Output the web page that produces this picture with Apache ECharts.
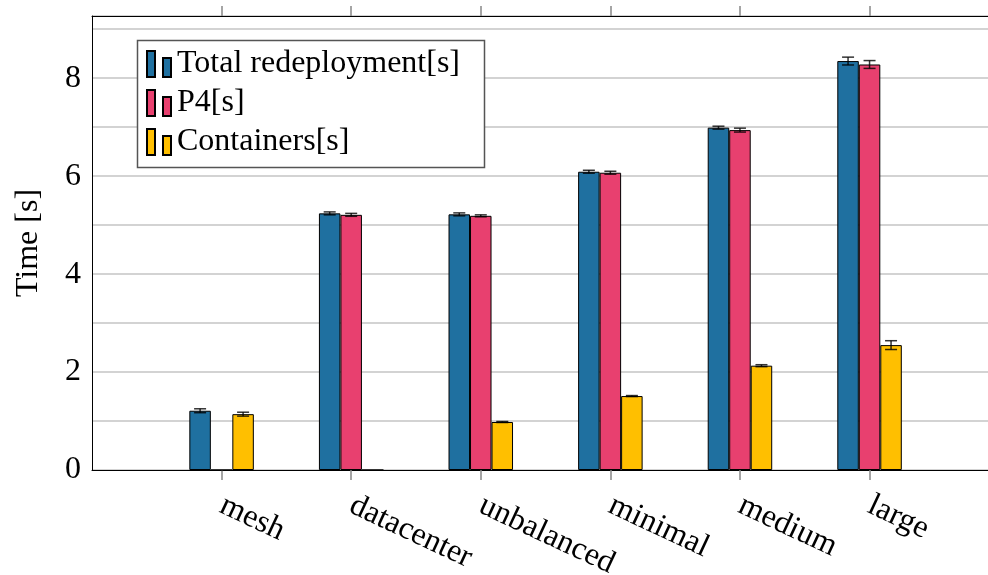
<!DOCTYPE html>
<html>
<head>
<meta charset="utf-8">
<script src="https://cdn.jsdelivr.net/npm/echarts@6/dist/echarts.min.js"></script>
<style>
  html, body { margin: 0; padding: 0; background: #fff; }
  #chart { width: 988px; height: 575px; }
</style>
</head>
<body>
<div id="chart"></div>
<script>
// Redeployment times per topology, with standard deviations
const categories = ['mesh', 'datacenter', 'unbalanced', 'minimal', 'medium', 'large'];
const seriesNames = ['Total redeployment[s]', 'P4[s]', 'Containers[s]'];
const totalValues = [1.21, 5.24, 5.22, 6.09, 6.99, 8.35];
const p4Values = [0, 5.21, 5.19, 6.07, 6.94, 8.28];
const containerValues = [1.14, 0, 0.98, 1.51, 2.13, 2.55];
const totalErr = [0.04, 0.03, 0.03, 0.03, 0.03, 0.08];
const p4Err = [0, 0.03, 0.02, 0.03, 0.04, 0.08];
const containerErr = [0.04, 0, 0.01, 0.01, 0.02, 0.09];
const colors = ['#1f70a0', '#e8406f', '#ffbf00'];

const FONT = 'Liberation Serif';
const FS = 32;
const BAR_W = 21.5;

// categories sit at integer positions; the frame leaves one empty slot on the left
const catPos = categories.map((_, i) => i);
const X_MIN = -1;
const X_MAX = 5.914;

const values = [totalValues, p4Values, containerValues];
const errs = [totalErr, p4Err, containerErr];

const barSeries = values.map((vals, i) => ({
  name: seriesNames[i],
  type: 'bar',
  data: vals.map((v, c) => [catPos[c], v]),
  barWidth: BAR_W,
  barGap: '0%',
  itemStyle: { color: colors[i], borderColor: '#000', borderWidth: 1 },
  emphasis: { disabled: true },
  z: 2
}));

// error bars: [position, seriesIndex, value, err]
const errData = [];
values.forEach((vals, s) => {
  vals.forEach((v, c) => {
    if (errs[s][c] > 0) errData.push([catPos[c], s, v, errs[s][c]]);
  });
});

const errSeries = {
  type: 'custom',
  name: 'err',
  data: errData,
  encode: { x: 0, y: 2 },
  z: 5,
  silent: true,
  renderItem: function (params, api) {
    const c = api.value(0), s = api.value(1), v = api.value(2), e = api.value(3);
    const hi = api.coord([c, v + e]);
    const lo = api.coord([c, v - e]);
    const x = hi[0] + (s - 1) * BAR_W;
    const cap = 6;
    const style = { stroke: 'rgba(0,0,0,0.8)', lineWidth: 1.5 };
    return {
      type: 'group',
      children: [
        { type: 'line', shape: { x1: x, y1: hi[1], x2: x, y2: lo[1] }, style: style },
        { type: 'line', shape: { x1: x - cap, y1: hi[1], x2: x + cap, y2: hi[1] }, style: style },
        { type: 'line', shape: { x1: x - cap, y1: lo[1], x2: x + cap, y2: lo[1] }, style: style }
      ]
    };
  }
};

const tickStyle = { color: '#888', width: 1.5 };

const option = {
  animation: false,
  backgroundColor: '#fff',
  textStyle: { fontFamily: FONT },
  grid: { left: 92, top: 16, right: 0, height: 454, containLabel: false, outerBoundsMode: 'none' },
  legend: {
    orient: 'vertical',
    left: 146,
    top: 48,
    padding: 0,
    itemGap: 7,
    itemWidth: 24,
    itemHeight: 26,
    icon: 'path://M0,0h8v26h-8zM16,7h8v19h-8z',
    data: seriesNames,
    textStyle: { fontFamily: FONT, fontSize: FS, color: '#000', padding: [0, 0, 0, 1] },
    selectedMode: false,
    z: 10
  },
  graphic: [{
    type: 'rect',
    z: 9,
    shape: { x: 137.5, y: 40.5, width: 347, height: 127 },
    style: { fill: '#fff', stroke: '#555', lineWidth: 1.5 }
  }],
  xAxis: [{
    type: 'value',
    min: X_MIN,
    max: X_MAX,
    interval: 1,
    position: 'bottom',
    axisLine: { show: true, onZero: false, lineStyle: { color: '#000', width: 1 } },
    axisTick: { show: true, inside: false, length: 10, customValues: catPos, lineStyle: tickStyle },
    axisLabel: {
      show: true, rotate: -25, margin: 34, fontFamily: FONT, fontSize: FS, color: '#000',
      customValues: catPos,
      formatter: v => categories[Math.round(v)] || ''
    },
    splitLine: { show: false }
  }, {
    type: 'value',
    min: X_MIN,
    max: X_MAX,
    interval: 1,
    position: 'top',
    axisLine: { show: true, onZero: false, lineStyle: { color: '#000', width: 1 } },
    axisTick: { show: true, inside: false, length: 10, customValues: catPos, lineStyle: tickStyle },
    axisLabel: { show: false },
    splitLine: { show: false }
  }],
  yAxis: {
    type: 'value',
    min: 0,
    max: 9.27,
    interval: 1,
    name: 'Time [s]',
    nameLocation: 'middle',
    nameRotate: 90,
    nameGap: 47,
    nameTextStyle: { fontFamily: FONT, fontSize: FS, color: '#000' },
    axisLine: { show: true, onZero: false, lineStyle: { color: '#000', width: 1 } },
    axisTick: { show: false },
    axisLabel: {
      fontFamily: FONT, fontSize: FS, color: '#000', margin: 11,
      formatter: v => (Math.abs(v % 2) < 1e-9 ? String(v) : '')
    },
    splitLine: { show: true, lineStyle: { color: '#c4c4c4', width: 1.5 } }
  },
  series: barSeries.concat([errSeries])
};

const chart = echarts.init(document.getElementById('chart'), null, { renderer: 'canvas' });
chart.setOption(option);
</script>
</body>
</html>
